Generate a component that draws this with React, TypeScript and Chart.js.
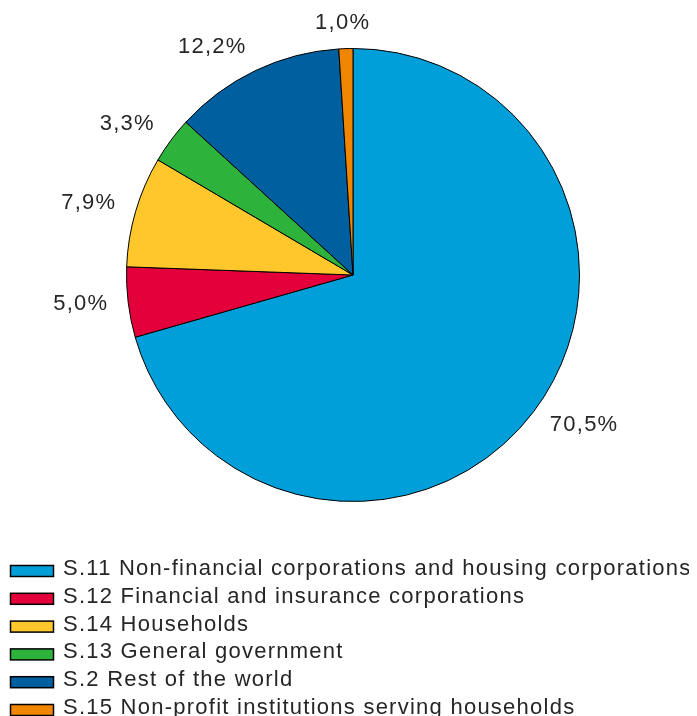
import React, { useEffect, useRef } from "react";
import { Chart, registerables } from "chart.js";

Chart.register(...registerables);

const categories = [
  "S.11 Non-financial corporations and housing corporations",
  "S.12 Financial and insurance corporations",
  "S.14 Households",
  "S.13 General government",
  "S.2 Rest of the world",
  "S.15 Non-profit institutions serving households",
];
const shares = [70.5, 5.0, 7.9, 3.3, 12.2, 1.0];
const sliceColors = ["#009fda", "#e4003a", "#ffc72c", "#2db33c", "#005f9f", "#ef8500"];

const FONT = '"Liberation Sans", Arial, sans-serif';
const TEXT_COLOR = "#262626";
const SPACING = "1.25px";

const fmt = (v: number) => v.toFixed(1).replace(".", ",") + "%";

const sliceLabels = {
  id: "sliceLabels",
  afterDatasetsDraw(chart: any) {
    const ctx = chart.ctx;
    const meta = chart.getDatasetMeta(0);
    const data = chart.data.datasets[0].data as number[];
    ctx.save();
    ctx.font = `22px ${FONT}`;
    (ctx as any).letterSpacing = SPACING;
    ctx.fillStyle = TEXT_COLOR;
    ctx.textAlign = "left";
    ctx.textBaseline = "alphabetic";
    meta.data.forEach((arc: any, i: number) => {
      const { x, y, startAngle, endAngle, outerRadius } = arc.getProps(
        ["x", "y", "startAngle", "endAngle", "outerRadius"],
        true
      );
      const mid = (startAngle + endAngle) / 2;
      const dx = Math.cos(mid);
      const dy = Math.sin(mid);
      const px = x + dx * (outerRadius + 20);
      const py = y + dy * (outerRadius + 25);
      const text = fmt(data[i]);
      const w = ctx.measureText(text).width;
      const t = Math.max(-1, Math.min(1, dx * 3));
      const cx = px + (t * w) / 2;
      const cy = py - 3;
      ctx.fillText(text, cx - w / 2, cy + 0.358 * 22);
    });
    ctx.restore();
  },
};

const rowLegend = {
  id: "rowLegend",
  afterDraw(chart: any) {
    const ctx = chart.ctx;
    const labels = chart.data.labels as string[];
    const colors = chart.data.datasets[0].backgroundColor as string[];
    const firstRow = chart.chartArea.bottom + 69;
    const rowGap = 27.8;
    ctx.save();
    ctx.font = `22px ${FONT}`;
    (ctx as any).letterSpacing = SPACING;
    ctx.textAlign = "left";
    ctx.textBaseline = "alphabetic";
    labels.forEach((lab, i) => {
      const cy = firstRow + i * rowGap;
      ctx.fillStyle = colors[i];
      ctx.fillRect(2.5, cy - 5.5, 43, 11);
      ctx.strokeStyle = "#000";
      ctx.lineWidth = 1.5;
      ctx.strokeRect(2.5, cy - 5.5, 43, 11);
      ctx.fillStyle = TEXT_COLOR;
      ctx.fillText(lab, 55, cy + 4);
    });
    ctx.restore();
  },
};

export default function App() {
  const ref = useRef<HTMLCanvasElement | null>(null);
  useEffect(() => {
    document.documentElement.style.overflow = "hidden";
    if (!ref.current) return;
    const chart = new Chart(ref.current, {
      type: "pie",
      data: {
        labels: categories,
        datasets: [
          {
            data: shares,
            backgroundColor: sliceColors,
            borderColor: "#000000",
            borderWidth: 1,
          },
        ],
      },
      options: {
        animation: false,
        responsive: true,
        maintainAspectRatio: false,
        layout: { padding: { left: 118, right: 117, top: 40, bottom: 214 } },
        plugins: {
          legend: { display: false },
          tooltip: { enabled: false },
        },
      },
      plugins: [sliceLabels, rowLegend],
    });
    return () => chart.destroy();
  }, []);
  return (
    <div style={{ width: 689, height: 708, overflow: "hidden", position: "relative" }}>
      <canvas ref={ref} />
    </div>
  );
}
